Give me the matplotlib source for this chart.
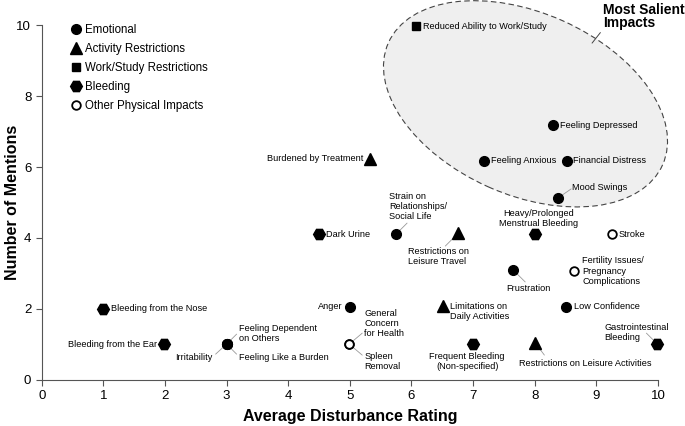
import matplotlib
matplotlib.use("Agg")
import matplotlib.pyplot as plt
import numpy as np
from matplotlib.lines import Line2D
from matplotlib.patches import Ellipse
from matplotlib.transforms import Affine2D

plt.rcParams['font.family'] = ['Liberation Sans', 'DejaVu Sans']

# impact data: name, average disturbance rating, number of mentions, category
names = ['Reduced Ability to Work/Study', 'Feeling Depressed', 'Feeling Anxious',
         'Financial Distress', 'Mood Swings', 'Burdened by Treatment',
         'Strain on\nRelationships/\nSocial Life', 'Restrictions on\nLeisure Travel',
         'Heavy/Prolonged\nMenstrual Bleeding', 'Stroke', 'Dark Urine', 'Frustration',
         'Fertility Issues/\nPregnancy\nComplications', 'Anger',
         'Limitations on\nDaily Activities', 'Low Confidence', 'Bleeding from the Nose',
         'Bleeding from the Ear', 'Irritability', 'Feeling Dependent\non Others',
         'Feeling Like a Burden', 'General\nConcern\nfor Health', 'Spleen\nRemoval',
         'Frequent Bleeding\n(Non-specified)', 'Restrictions on Leisure Activities',
         'Gastrointestinal\nBleeding']
rating = [6.08, 8.30, 7.18, 8.53, 8.38, 5.33, 5.75, 6.76, 8.01, 9.26, 4.50, 7.65,
          8.64, 5.00, 6.51, 8.50, 1.00, 1.98, 3.00, 3.00, 3.00, 4.99, 4.99, 7.00,
          8.01, 9.99]
mentions = [9.97, 7.18, 6.17, 6.17, 5.13, 6.23, 4.11, 4.14, 4.11, 4.11, 4.11, 3.10,
            3.07, 2.06, 2.08, 2.06, 2.00, 1.01, 1.01, 1.01, 1.01, 1.01, 1.01, 1.01,
            1.04, 1.01]
category = ['work', 'emo', 'emo', 'emo', 'emo', 'act', 'emo', 'act', 'bleed', 'phys',
            'bleed', 'emo', 'phys', 'emo', 'act', 'emo', 'bleed', 'bleed', 'emo', 'emo',
            'emo', 'phys', 'phys', 'bleed', 'act', 'bleed']

cat_order = ['emo', 'act', 'work', 'bleed', 'phys']
cat_labels = ['Emotional', 'Activity Restrictions', 'Work/Study Restrictions',
              'Bleeding', 'Other Physical Impacts']
cat_style = {
    'emo': dict(marker='o', ms=7, mfc='black', mec='black'),
    'act': dict(marker='^', ms=8.5, mfc='black', mec='black'),
    'work': dict(marker='s', ms=6, mfc='black', mec='black'),
    'bleed': dict(marker='H', ms=8.5, mfc='black', mec='black'),
    'phys': dict(marker='o', ms=6.2, mfc='white', mec='black', mew=1.3),
}

# label placement: text offset (px), ha, va, leader end offset (px) or None
label_pos = [
    (7, 0, 'left', 'center', None),
    (7, 0, 'left', 'center', None),
    (7, 0, 'left', 'center', None),
    (6, 0, 'left', 'center', None),
    (14, 10, 'left', 'center', (13, 9)),
    (-7, 0, 'right', 'center', None),
    (-7, 13, 'left', 'bottom', (11, 11)),
    (-50, -14, 'left', 'top', (-13, -13)),
    (3, 6, 'center', 'bottom', None),
    (6, 0, 'left', 'center', None),
    (7, 0, 'left', 'center', None),
    (15, -19, 'center', 'center', (12, -12)),
    (8, 0, 'left', 'center', None),
    (-7, 0, 'right', 'center', None),
    (7, 4, 'left', 'top', None),
    (8, 0, 'left', 'center', None),
    (8, 0, 'left', 'center', None),
    (-7, 0, 'right', 'center', None),
    (-14, -13, 'right', 'center', (-11, -10)),
    (12, 1, 'left', 'bottom', (10, 10)),
    (12, -13, 'left', 'center', (10, -10)),
    (15, 6, 'left', 'bottom', (13, 11)),
    (15, -8, 'left', 'top', (13, -11)),
    (-6, -8, 'center', 'top', None),
    (50, -20, 'center', 'center', (9, -12)),
    (-53, 2, 'left', 'bottom', (-11, 11)),
]

fig = plt.figure(figsize=(6.85, 4.26), dpi=100)
ax = fig.add_axes([0.0609, 0.108, 0.8997, 0.8333])
ax.set_xlim(0, 10)
ax.set_ylim(0, 10)

# highlight ellipse, defined in pixel-like units (px per data unit)
sx, sy = 61.6, 35.5
hl = Ellipse((7.85 * sx, 7.78 * sy), 300, 182, angle=-24,
             transform=Affine2D().scale(1 / sx, 1 / sy) + ax.transData,
             facecolor='#efefef', edgecolor='#444444', lw=0.8,
             linestyle=(0, (5, 3)), clip_on=False, zorder=1)
ax.add_patch(hl)
ax.annotate('Most Salient\nImpacts', xy=(8.93, 9.49), xytext=(9.11, 10.62),
            fontsize=10, fontweight='bold', ha='left', va='top',
            linespacing=0.95, annotation_clip=False,
            arrowprops=dict(arrowstyle='-', color='#444444', lw=0.7,
                            shrinkA=0, shrinkB=0, relpos=(0.0, 0.05)))

for x, y, c in zip(rating, mentions, category):
    ax.plot(x, y, linestyle='none', clip_on=False, zorder=4, **cat_style[c])

for name, x, y, (dx, dy, ha, va, lead) in zip(names, rating, mentions, label_pos):
    ax.annotate(name, xy=(x, y), xytext=(dx, dy), textcoords='offset pixels',
                fontsize=6.6, ha=ha, va=va, linespacing=1.15, zorder=5,
                annotation_clip=False)
    if lead is not None:
        ax.annotate('', xy=(x, y), xytext=lead, textcoords='offset pixels',
                    annotation_clip=False,
                    arrowprops=dict(arrowstyle='-', color='#999999', lw=0.6,
                                    shrinkA=0, shrinkB=4))

handles = [Line2D([], [], linestyle='none', **cat_style[c]) for c in cat_order]
ax.legend(handles, cat_labels, loc='upper left', bbox_to_anchor=(0.041, 1.015),
          frameon=False, fontsize=8.3, handlelength=0.8, handletextpad=0.35,
          labelspacing=0.6, borderaxespad=0)

for side in ['top', 'right']:
    ax.spines[side].set_visible(False)
for side in ['left', 'bottom']:
    ax.spines[side].set_color('#555555')
    ax.spines[side].set_linewidth(0.8)
ax.set_xticks(np.arange(0, 11, 1))
ax.set_yticks(np.arange(0, 11, 2))
ax.tick_params(colors='#555555', labelcolor='black', labelsize=9.5, length=4, width=0.8)
ax.set_xlabel('Average Disturbance Rating', fontsize=11.5, fontweight='bold', labelpad=5)
ax.set_ylabel('Number of Mentions', fontsize=11.5, fontweight='bold')
ax.yaxis.set_label_coords(-0.035, 0.5)

fig.savefig('out.png', dpi=100)
